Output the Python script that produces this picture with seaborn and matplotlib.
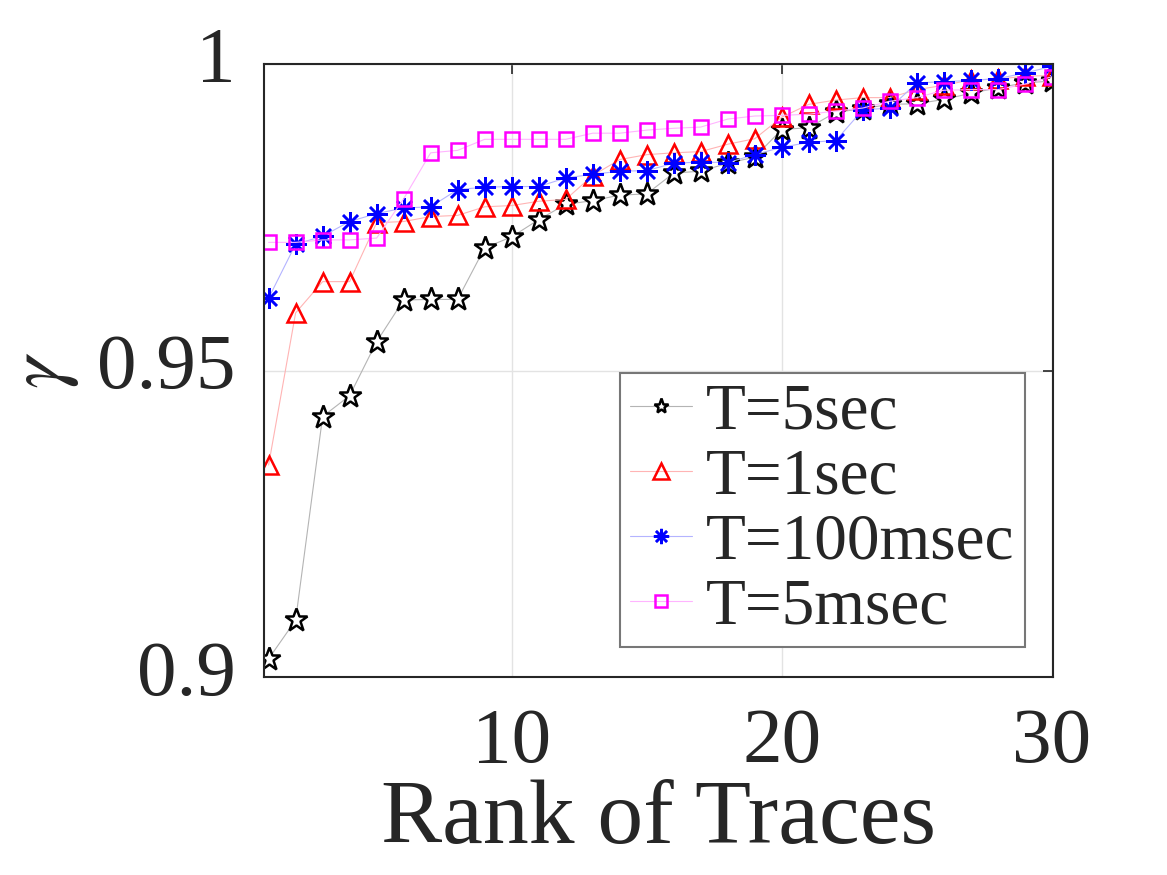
import numpy as np
import matplotlib
matplotlib.use('Agg')
import matplotlib.pyplot as plt
import matplotlib.transforms as mtransforms
import seaborn as sns
import pandas as pd

# data
rank = list(range(1, 31))
t_5sec = [0.9030, 0.9093, 0.9425, 0.9459, 0.9547, 0.9615, 0.9616, 0.9616, 0.9700, 0.9718,
          0.9746, 0.9771, 0.9777, 0.9786, 0.9788, 0.9822, 0.9825, 0.9838, 0.9848, 0.9893,
          0.9896, 0.9921, 0.9927, 0.9934, 0.9935, 0.9942, 0.9952, 0.9961, 0.9969, 0.9972]
t_1sec = [0.9346, 0.9594, 0.9645, 0.9645, 0.9741, 0.9743, 0.9751, 0.9753, 0.9767, 0.9769,
          0.9776, 0.9779, 0.9818, 0.9844, 0.9852, 0.9855, 0.9857, 0.9869, 0.9878, 0.9913,
          0.9934, 0.9941, 0.9945, 0.9945, 0.9958, 0.9965, 0.9974, 0.9975, 0.9980, 0.9981]
t_100msec = [0.9618, 0.9706, 0.9719, 0.9743, 0.9756, 0.9765, 0.9767, 0.9795, 0.9799, 0.9800,
             0.9800, 0.9814, 0.9820, 0.9825, 0.9826, 0.9838, 0.9840, 0.9839, 0.9852, 0.9864,
             0.9872, 0.9875, 0.9925, 0.9928, 0.9969, 0.9971, 0.9973, 0.9976, 0.9985, 0.9996]
t_5msec = [0.9709, 0.9709, 0.9713, 0.9713, 0.9716, 0.9780, 0.9855, 0.9859, 0.9877, 0.9877,
           0.9877, 0.9877, 0.9887, 0.9887, 0.9892, 0.9895, 0.9897, 0.9910, 0.9915, 0.9916,
           0.9918, 0.9923, 0.9928, 0.9939, 0.9945, 0.9957, 0.9958, 0.9958, 0.9967, 0.9979]
labels = ['T=5sec', 'T=1sec', 'T=100msec', 'T=5msec']
x_ticks = [10, 20, 30]
y_ticks = [0.9, 0.95, 1.0]
y_ticklabels = ['0.9', '0.95', '1']

sns.set_style('white')
plt.rcParams['font.family'] = ['Liberation Serif', 'DejaVu Serif']
plt.rcParams['mathtext.fontset'] = 'stix'

fig = plt.figure(figsize=(11.67, 8.75), dpi=100)
ax = fig.add_axes([0.226, 0.226, 0.676, 0.701])

# (values, marker color, line color, marker, size, face)
styles = [
    (t_5sec, 'black', '#b4b4b4', '*', 17, 'white'),
    (t_1sec, 'red', '#ffb4b4', '^', 13, 'none'),
    (t_100msec, 'blue', '#b4b4ff', (8, 2, 0), 15, 'none'),
    (t_5msec, 'magenta', '#ffb4ff', 's', 9.5, 'none'),
]

for (vals, mc, lc, mk, ms, fc), lab in zip(styles, labels):
    df = pd.DataFrame({'rank': rank, 'gamma': vals})
    sns.lineplot(data=df, x='rank', y='gamma', ax=ax, color=lc, linewidth=0.8,
                 marker=mk, markersize=ms, mfc=fc, mec=mc, mew=1.8, label=lab)

ax.set_xlim(0.82, 30.03)
ax.set_ylim(0.9, 1.0)
ax.set_xticks(x_ticks)
ax.set_yticks(y_ticks)
ax.set_yticklabels(y_ticklabels)
ax.grid(True, color='#e3e3e3', linewidth=1.0)
ax.tick_params(axis='both', direction='in', length=7, width=1.2, color='#262626',
               labelsize=57, labelcolor='#262626', top=True, right=True)
ax.tick_params(axis='x', pad=22)
ax.tick_params(axis='y', pad=20)
shift = mtransforms.ScaledTranslation(0, 10 / 100, fig.dpi_scale_trans)
for t in ax.get_yticklabels():
    t.set_transform(t.get_transform() + shift)
for s in ax.spines.values():
    s.set_visible(True)
    s.set_color('#262626')
    s.set_linewidth(1.5)

ax.set_xlabel('Rank of Traces', fontsize=66, color='#262626', labelpad=0)
ax.set_ylabel(r'$\gamma$', fontsize=58, color='#262626', labelpad=12)

leg = ax.legend(loc='lower right', bbox_to_anchor=(0.9645, 0.049), borderaxespad=0,
                fontsize=47, frameon=True, fancybox=False, edgecolor='#777777',
                framealpha=1, borderpad=0.15, handlelength=0.95, handletextpad=0.22,
                labelspacing=0.08)
leg.get_frame().set_linewidth(1.5)
leg.legend_handles[0].set_markersize(11)
leg.legend_handles[1].set_markersize(11)
leg.legend_handles[2].set_markersize(11)
leg.legend_handles[3].set_markersize(8)

plt.savefig('out.png', dpi=100)
plt.close()
